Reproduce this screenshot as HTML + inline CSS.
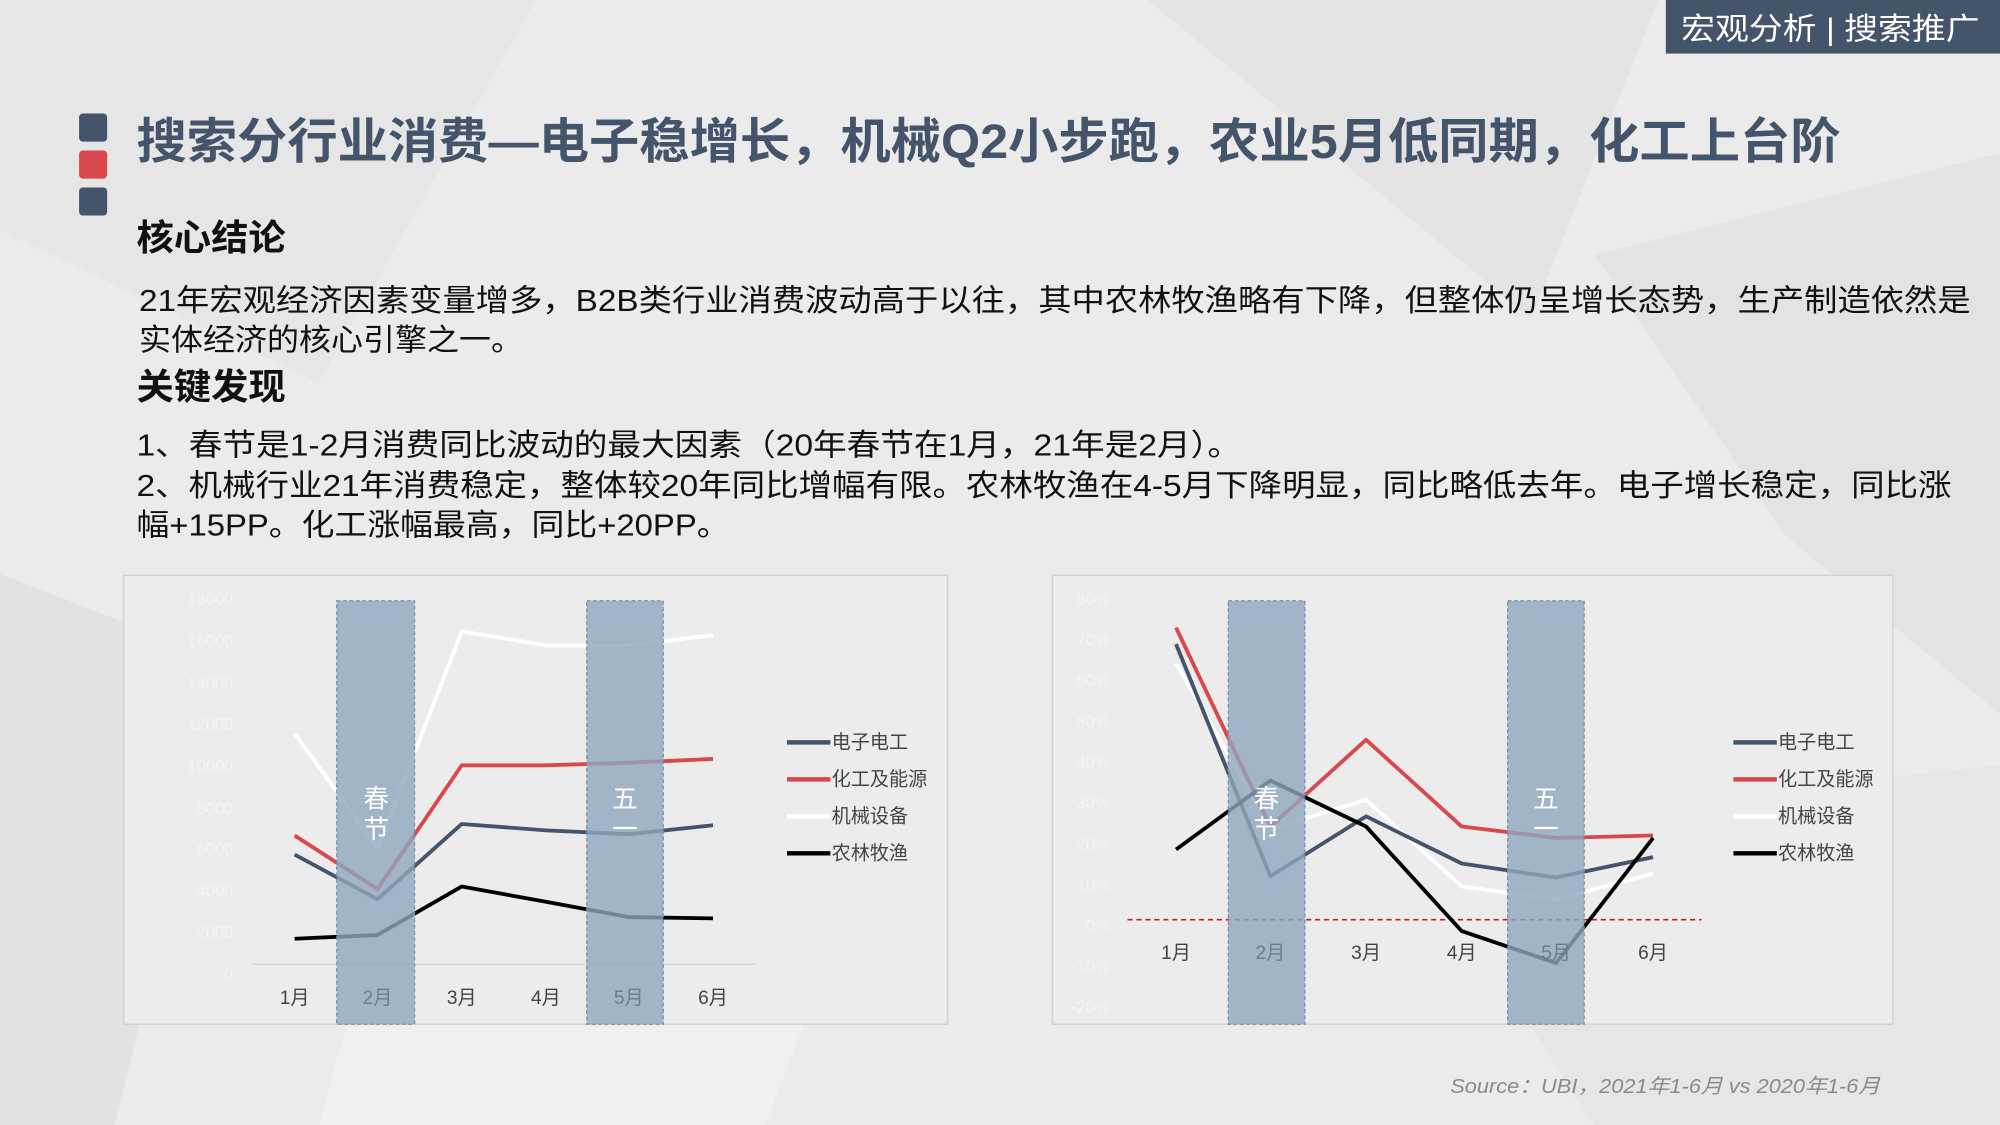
<!DOCTYPE html>
<html><head><meta charset="utf-8"><style>
html,body{margin:0;padding:0;width:2000px;height:1125px;overflow:hidden;background:#ebebeb}
svg{display:block}
text{font-family:"Liberation Sans","Noto Sans CJK SC",sans-serif}
</style></head><body>
<svg width="2000" height="1125" viewBox="0 0 1568 882" xmlns="http://www.w3.org/2000/svg">
<rect width="1568" height="882" fill="#ebebeb"/>
<polygon points="0,0 420,0 250,300 0,180" fill="#e6e6e6"/>
<polygon points="900,0 1300,0 1200,250" fill="#e4e4e4"/>
<polygon points="1250,200 1568,120 1568,560 1400,420" fill="#e3e3e3"/>
<polygon points="0,450 180,520 90,882 0,882" fill="#e2e2e2"/>
<polygon points="300,700 700,620 600,882 250,882" fill="#f0f0f0"/>
<polygon points="1100,650 1568,600 1568,882 1250,882" fill="#e6e6e6"/>
<!-- header tag -->
<rect x="1306" y="0" width="262" height="42" fill="#44546a"/>
<text x="1318" y="31" font-size="24" fill="#fff" textLength="234" lengthAdjust="spacingAndGlyphs">宏观分析 | 搜索推广</text>
<!-- squares -->
<rect x="62" y="89" width="22" height="22" rx="3" fill="#44546a"/>
<rect x="62" y="118" width="22" height="22" rx="3" fill="#d9484a"/>
<rect x="62" y="147" width="22" height="22" rx="3" fill="#44546a"/>
<text x="107" y="124" font-size="38" font-weight="bold" fill="#44546a" textLength="1336" lengthAdjust="spacingAndGlyphs">搜索分行业消费—电子稳增长，机械Q2小步跑，农业5月低同期，化工上台阶</text>
<text x="107" y="196" font-size="28" font-weight="bold" fill="#111" textLength="117" lengthAdjust="spacingAndGlyphs">核心结论</text>
<text x="109" y="244" font-size="24" fill="#111" textLength="1436" lengthAdjust="spacingAndGlyphs">21年宏观经济因素变量增多，B2B类行业消费波动高于以往，其中农林牧渔略有下降，但整体仍呈增长态势，生产制造依然是</text>
<text x="109" y="275" font-size="24" fill="#111" textLength="301" lengthAdjust="spacingAndGlyphs">实体经济的核心引擎之一。</text>
<text x="107" y="313" font-size="28" font-weight="bold" fill="#111" textLength="117" lengthAdjust="spacingAndGlyphs">关键发现</text>
<text x="107" y="357" font-size="24" fill="#111" textLength="866" lengthAdjust="spacingAndGlyphs">1、春节是1-2月消费同比波动的最大因素（20年春节在1月，21年是2月）。</text>
<text x="107" y="389" font-size="24" fill="#111" textLength="1423" lengthAdjust="spacingAndGlyphs">2、机械行业21年消费稳定，整体较20年同比增幅有限。农林牧渔在4-5月下降明显，同比略低去年。电子增长稳定，同比涨</text>
<text x="107" y="420" font-size="24" fill="#111" textLength="465" lengthAdjust="spacingAndGlyphs">幅+15PP。化工涨幅最高，同比+20PP。</text>

<!-- chart 1 -->
<rect x="97" y="451" width="646" height="352" fill="#ececec" stroke="#cfcfcf" stroke-width="1"/>
<g font-size="13" fill="#f6f6f6" text-anchor="end" opacity="0.8">
<text x="183" y="474">18000</text><text x="183" y="507">16000</text><text x="183" y="540">14000</text><text x="183" y="572">12000</text><text x="183" y="605">10000</text><text x="183" y="638">8000</text><text x="183" y="670">6000</text><text x="183" y="703">4000</text><text x="183" y="735">2000</text><text x="183" y="768">0</text>
</g>
<line x1="198" y1="756" x2="592" y2="756" stroke="#d6d6d6" stroke-width="1"/>
<g fill="none" stroke-width="3" stroke-linejoin="round">
<polyline points="231,575 296,665 362,495 428,506 493,506 559,498" stroke="#ffffff"/>
<polyline points="231,655 296,697 362,600 428,600 493,598 559,595" stroke="#d9484a"/>
<polyline points="231,670 296,705 362,646 428,651 493,654 559,647" stroke="#44546a"/>
<polyline points="231,736 296,733 362,695 428,707 493,719 559,720" stroke="#000"/>
</g>
<rect x="264" y="471" width="61" height="332" fill="#8fa6bf" fill-opacity="0.8" stroke="#7a90aa" stroke-dasharray="3,2"/>
<rect x="460" y="471" width="60" height="332" fill="#8fa6bf" fill-opacity="0.8" stroke="#7a90aa" stroke-dasharray="3,2"/>
<g font-size="20" fill="#fff" text-anchor="middle"><text x="295" y="633">春</text><text x="295" y="657">节</text><text x="490" y="633">五</text><text x="490" y="657">一</text></g>
<g font-size="15" fill="#444" text-anchor="middle"><text x="231" y="787">1月</text><text x="296" y="787" fill="#6a7d93">2月</text><text x="362" y="787">3月</text><text x="428" y="787">4月</text><text x="493" y="787" fill="#6a7d93">5月</text><text x="559" y="787">6月</text></g>
<g stroke-width="3.5"><line x1="617" y1="582" x2="651" y2="582" stroke="#44546a"/><line x1="617" y1="611" x2="651" y2="611" stroke="#d9484a"/><line x1="617" y1="640" x2="651" y2="640" stroke="#fff"/><line x1="617" y1="669" x2="651" y2="669" stroke="#000"/></g>
<g font-size="15" fill="#444"><text x="652" y="587">电子电工</text><text x="652" y="616">化工及能源</text><text x="652" y="645">机械设备</text><text x="652" y="674">农林牧渔</text></g>

<!-- chart 2 -->
<rect x="825" y="451" width="659" height="352" fill="#ececec" stroke="#cfcfcf" stroke-width="1"/>
<g font-size="13" fill="#f6f6f6" text-anchor="end" opacity="0.8">
<text x="870" y="474">80%</text><text x="870" y="506">70%</text><text x="870" y="538">60%</text><text x="870" y="570">50%</text><text x="870" y="602">40%</text><text x="870" y="634">30%</text><text x="870" y="666">20%</text><text x="870" y="698">10%</text><text x="870" y="730">0%</text><text x="870" y="762">-10%</text><text x="870" y="794">-20%</text>
</g>
<line x1="884" y1="721" x2="1334" y2="721" stroke="#c0202a" stroke-width="1.3" stroke-dasharray="4,3"/>
<g fill="none" stroke-width="3" stroke-linejoin="round">
<polyline points="922,520 996,650 1071,627 1146,695 1220,705 1296,685" stroke="#ffffff"/>
<polyline points="922,492 996,648 1071,580 1146,648 1220,657 1296,655" stroke="#d9484a"/>
<polyline points="922,505 996,687 1071,640 1146,677 1220,688 1296,672" stroke="#44546a"/>
<polyline points="922,666 996,612 1071,648 1146,730 1220,755 1296,657" stroke="#000"/>
</g>
<rect x="963" y="471" width="60" height="332" fill="#8fa6bf" fill-opacity="0.8" stroke="#7a90aa" stroke-dasharray="3,2"/>
<rect x="1182" y="471" width="60" height="332" fill="#8fa6bf" fill-opacity="0.8" stroke="#7a90aa" stroke-dasharray="3,2"/>
<g font-size="20" fill="#fff" text-anchor="middle"><text x="993" y="633">春</text><text x="993" y="657">节</text><text x="1212" y="633">五</text><text x="1212" y="657">一</text></g>
<g font-size="15" fill="#444" text-anchor="middle"><text x="922" y="752">1月</text><text x="996" y="752" fill="#6a7d93">2月</text><text x="1071" y="752">3月</text><text x="1146" y="752">4月</text><text x="1220" y="752" fill="#6a7d93">5月</text><text x="1296" y="752">6月</text></g>
<g stroke-width="3.5"><line x1="1359" y1="582" x2="1393" y2="582" stroke="#44546a"/><line x1="1359" y1="611" x2="1393" y2="611" stroke="#d9484a"/><line x1="1359" y1="640" x2="1393" y2="640" stroke="#fff"/><line x1="1359" y1="669" x2="1393" y2="669" stroke="#000"/></g>
<g font-size="15" fill="#444"><text x="1394" y="587">电子电工</text><text x="1394" y="616">化工及能源</text><text x="1394" y="645">机械设备</text><text x="1394" y="674">农林牧渔</text></g>

<text x="1137" y="857" font-size="16" font-style="italic" fill="#8a8a8a" textLength="337" lengthAdjust="spacingAndGlyphs">Source：UBI，2021年1-6月 vs 2020年1-6月</text>
</svg>
</body></html>
